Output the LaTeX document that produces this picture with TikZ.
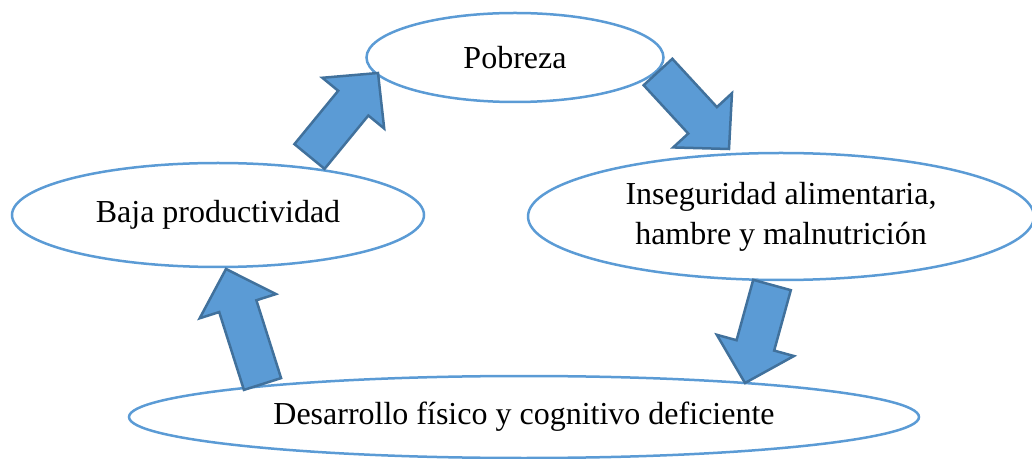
\documentclass[tikz,border=0pt]{standalone}
\usepackage{fontspec}
\setmainfont{Liberation Serif}
\usepackage{xcolor}
\definecolor{azulOffice}{HTML}{5B9BD5}
\definecolor{azulBorde}{HTML}{41719C}
\usepackage{tikz}
\usetikzlibrary{calc, shapes.geometric}
\tikzset{
  %% ── Elipses ──────────────────────────────────────────────────────────
  %% Contorno azul fino, sin relleno: las flechas pasan por encima.
  elipse/.style       = {ellipse, draw=azulOffice, line width=1.25pt,
                         inner sep=0pt, align=center,
                         font=\fontsize{16}{20}\selectfont},
  %%
  %% ── Flechas ──────────────────────────────────────────────────────────
  %% Flecha de bloque rellena, dibujada entre una cola y una punta.
  flechaBloque/.style = {fill=azulOffice, draw=azulBorde, line width=1.25pt,
                         line join=miter},
}
%% cola, punta
\newcommand{\FlechaBloque}[2]{%
  \coordinate (#1-cuello) at ($(#2)!19.5pt!(#1)$);
  \draw[flechaBloque]
    ($(#1)!9.75pt!90:(#2)$) -- ($(#1-cuello)!9.75pt!90:(#2)$)
    -- ($(#1-cuello)!20pt!90:(#2)$) -- (#2)
    -- ($(#1-cuello)!20pt!-90:(#2)$) -- ($(#1-cuello)!9.75pt!-90:(#2)$)
    -- ($(#1)!9.75pt!-90:(#2)$) -- cycle;
}

\begin{document}
\begin{tikzpicture}[x=0.5pt, y=-0.5pt]
\useasboundingbox (0,0) rectangle (1032,459);

\node[elipse, minimum width=148.5pt, minimum height=44.5pt] (pobreza) at (515,57.5) {Pobreza};
\node[elipse, minimum width=253pt, minimum height=63.5pt] (inseguridad) at (781,216.5)
     {Inseguridad alimentaria,\\hambre y malnutrición};
\node[elipse, minimum width=395pt, minimum height=41pt] (desarrollo) at (524,417)
     {Desarrollo físico y cognitivo deficiente};
\node[elipse, minimum width=206pt, minimum height=52pt] (baja) at (218,215) {Baja productividad};

\coordinate (cola1) at (309.5,156.5);  \coordinate (punta1) at (378,73);
\coordinate (cola2) at (658,72);       \coordinate (punta2) at (729,149);
\coordinate (cola3) at (772,285);      \coordinate (punta3) at (745,383);
\coordinate (cola4) at (262.5,384);    \coordinate (punta4) at (226,269);

\FlechaBloque{cola1}{punta1}
\FlechaBloque{cola2}{punta2}
\FlechaBloque{cola3}{punta3}
\FlechaBloque{cola4}{punta4}

\end{tikzpicture}
\end{document}
